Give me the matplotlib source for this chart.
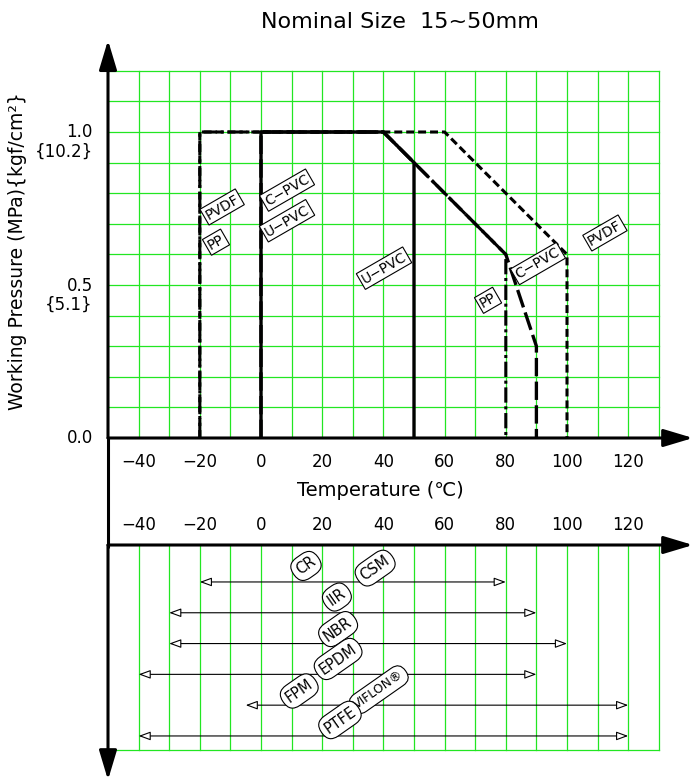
import numpy as np
import matplotlib.pyplot as plt

plt.rcParams['font.family'] = ['DejaVu Sans']

# 上半部: 温度-压力曲线
upvc_t = [0, 0, 40, 50, 50]
upvc_p = [0, 1.0, 1.0, 0.9, 0]
cpvc_t = [0, 0, 40, 50, 80, 90, 90]
cpvc_p = [0, 1.0, 1.0, 0.9, 0.6, 0.3, 0]
pp_t = [-20, -20, 40, 50, 80, 80]
pp_p = [0, 1.0, 1.0, 0.9, 0.6, 0]
pvdf_t = [-20, -20, 60, 100, 100]
pvdf_p = [0, 1.0, 1.0, 0.6, 0]

# 曲线标签 (文字, 温度, 压力)
curve_labels = ["PVDF", "PP", "C\u2212PVC", "U\u2212PVC", "U\u2212PVC", "PP", "C\u2212PVC", "PVDF"]
curve_label_t = [-12.7, -14.7, 8.5, 8.5, 40.2, 74.2, 90.5, 112.4]
curve_label_p = [0.755, 0.64, 0.81, 0.71, 0.555, 0.45, 0.57, 0.67]

# 下半部: 密封材料温度范围
seal_low = [-20, -30, -30, -40, -5, -40]
seal_high = [80, 90, 100, 90, 120, 120]
seal_names = ["CR", "CSM", "IIR", "NBR", "EPDM", "FPM", "VIFLON\u00ae", "PTFE"]
seal_name_t = [14.7, 37.3, 24.8, 25.2, 25.2, 12.5, 38.5, 25.8]
seal_name_row = [0.48, 0.55, 1.49, 2.53, 3.5, 4.54, 4.5, 5.48]

x_ticks = [-40, -20, 0, 20, 40, 60, 80, 100, 120]

GRID = '#22e622'
PX_T = 3.06    # 每度像素
PX_P = 306     # 每MPa像素
W, H = 693, 782

fig = plt.figure(figsize=(W / 100, H / 100), dpi=100)

# ---------- 上图 ----------
ax = fig.add_axes([108 / W, (H - 438) / H, (W - 108) / W, (438 - 40) / H])
xmax = -50 + (W - 108) / PX_T
ax.set_xlim(-50, xmax)
ax.set_ylim(0, (438 - 40) / PX_P)
ax.axis('off')

for t in range(-40, 131, 10):
    ax.plot([t, t], [0, 1.2], color=GRID, lw=0.9, zorder=1)
for i in range(1, 13):
    ax.plot([-50, 130], [i / 10, i / 10], color=GRID, lw=0.9, zorder=1)

ax.plot(pvdf_t, pvdf_p, color='k', lw=2.2, dashes=(2.6, 1.3), zorder=3)
ax.plot(pp_t, pp_p, color='k', lw=2.2, dashes=(5, 1.2, 1, 1.2), zorder=3)
ax.plot(cpvc_t, cpvc_p, color='k', lw=2.4, dashes=(5.5, 1.6), zorder=3)
ax.plot(upvc_t, upvc_p, color='k', lw=2.4, zorder=4)

for s, t, p in zip(curve_labels, curve_label_t, curve_label_p):
    ax.text(t, p, s, fontsize=10, rotation=30, ha='center', va='center', zorder=5,
            rotation_mode='anchor',
            bbox=dict(boxstyle='square,pad=0.15', fc='white', ec='k', lw=0.8))

# 坐标轴箭头
arr = dict(arrowstyle='-|>,head_length=1.0,head_width=0.3', mutation_scale=18,
           lw=2.2, color='k', shrinkA=0, shrinkB=0)
ax.annotate('', xy=(xmax, 0), xytext=(-50, 0), arrowprops=arr, annotation_clip=False)
ax.annotate('', xy=(-50, 1.3), xytext=(-50, 0), arrowprops=arr, annotation_clip=False)
ax.plot([-50, -50], [0, -0.36], color='k', lw=2.2, clip_on=False, solid_capstyle='butt')

for t in x_ticks:
    lab = f"{t}".replace('-', '\u2212')
    ax.text(t, -0.078, lab, fontsize=12, ha='center', va='center', clip_on=False)
    ax.text(t, -0.284, lab, fontsize=12, ha='center', va='center', clip_on=False)
ax.text(39, -0.173, "Temperature (\u2103)", fontsize=14, ha='center', va='center')

ax.text(-55, 1.0, "1.0", fontsize=12, ha='right', va='center')
ax.text(-55, 0.935, "{10.2}", fontsize=12, ha='right', va='center')
ax.text(-55, 0.497, "0.5", fontsize=12, ha='right', va='center')
ax.text(-55, 0.435, "{5.1}", fontsize=12, ha='right', va='center')
ax.text(-55, 0.0, "0.0", fontsize=12, ha='right', va='center')
ax.text(-79.5, 0.61, "Working Pressure (MPa){kgf/cm\u00b2}", fontsize=13.5,
        rotation=90, ha='center', va='center')
ax.text(45.4, 1.36, "Nominal Size  15~50mm", fontsize=16, ha='center', va='center')

# ---------- 下图 ----------
bx = fig.add_axes([108 / W, 0, (W - 108) / W, (H - 545) / H])
bx.set_xlim(-50, xmax)
bx.set_ylim(-0.2 + (H - 545) / 30.8, -0.2)
bx.axis('off')

for t in range(-40, 131, 10):
    bx.plot([t, t], [-0.2, 6.45], color=GRID, lw=0.9, zorder=1)
bx.plot([-50, 130], [6.45, 6.45], color=GRID, lw=0.9, zorder=1)

bx.annotate('', xy=(xmax, -0.2), xytext=(-50, -0.2), arrowprops=arr, annotation_clip=False)
bx.annotate('', xy=(-50, 7.43), xytext=(-50, -0.2), arrowprops=arr, annotation_clip=False)

rng = dict(arrowstyle='<|-|>,head_length=0.6,head_width=0.22', mutation_scale=12,
           lw=0.8, ec='k', fc='white', shrinkA=0, shrinkB=0)
for i, (lo, hi) in enumerate(zip(seal_low, seal_high)):
    bx.annotate('', xy=(hi, i + 1), xytext=(lo, i + 1), arrowprops=rng, zorder=3)

for s, t, r in zip(seal_names, seal_name_t, seal_name_row):
    fs = 9 if s.startswith('VIFLON') else 10.5
    bx.text(t, r, s, fontsize=fs, rotation=35, ha='center', va='center', zorder=5,
            rotation_mode='anchor',
            bbox=dict(boxstyle='round,pad=0.32,rounding_size=0.8', fc='white', ec='k', lw=0.8))

fig.savefig('out.png', dpi=100)
